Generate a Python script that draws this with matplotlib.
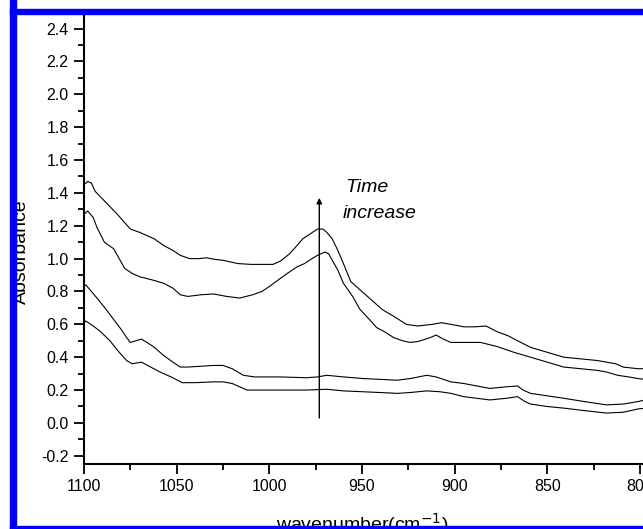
import matplotlib
matplotlib.use("Agg")
import matplotlib.pyplot as plt
from matplotlib.patches import Rectangle
from matplotlib.ticker import MultipleLocator

plt.rcParams["font.family"] = ["Liberation Sans", "DejaVu Sans"]

# spectra, lowest (earliest) to highest (latest)
wn_1 = [1100, 1099, 1095, 1091, 1086, 1081, 1077, 1074, 1069, 1064, 1059, 1053, 1047, 1040,
        1030, 1025, 1020, 1012, 1000, 990, 980, 969, 960, 950, 940, 931, 924, 915, 908, 902,
        895, 888, 881, 872, 866, 862, 859, 850, 841, 830, 818, 809, 801, 797]
abs_1 = [0.61, 0.62, 0.59, 0.555, 0.50, 0.43, 0.38, 0.36, 0.37, 0.34, 0.31, 0.28, 0.245, 0.245,
         0.25, 0.25, 0.24, 0.20, 0.20, 0.20, 0.20, 0.205, 0.195, 0.19, 0.185, 0.18, 0.185, 0.195, 0.19, 0.18,
         0.16, 0.15, 0.14, 0.15, 0.16, 0.13, 0.115, 0.10, 0.09, 0.075, 0.06, 0.065, 0.085, 0.09]

wn_2 = [1100, 1099, 1096, 1093, 1088, 1084, 1080, 1077, 1075, 1072, 1069, 1066, 1062, 1057,
        1052, 1048, 1044, 1037, 1030, 1025, 1020, 1014, 1008, 994, 980, 974, 969, 960, 949,
        940, 931, 924, 915, 910, 902, 895, 888, 881, 872, 866, 863, 859, 850, 841, 830, 818,
        809, 801, 797]
abs_2 = [0.83, 0.84, 0.80, 0.76, 0.69, 0.63, 0.57, 0.52, 0.49, 0.50, 0.51, 0.49, 0.46, 0.41,
         0.37, 0.34, 0.34, 0.345, 0.35, 0.35, 0.33, 0.29, 0.28, 0.28, 0.275, 0.28, 0.29, 0.28, 0.27,
         0.265, 0.26, 0.27, 0.29, 0.28, 0.25, 0.24, 0.225, 0.21, 0.22, 0.225, 0.20, 0.18, 0.165, 0.15, 0.13, 0.11,
         0.115, 0.13, 0.14]

wn_3 = [1100, 1098, 1095, 1093, 1089, 1084, 1081, 1078, 1074, 1070, 1063, 1057, 1052, 1048,
        1044, 1037, 1030, 1023, 1016, 1009, 1004, 1000, 994, 989, 985, 981, 977, 974, 970, 968,
        966, 963, 960, 955, 951, 946, 942, 937, 933, 928, 924, 920, 917, 913, 910, 906, 902,
        895, 886, 877, 868, 859, 850, 841, 832, 823, 818, 812, 806, 801, 797]
abs_3 = [1.27, 1.29, 1.25, 1.19, 1.10, 1.06, 1.00, 0.94, 0.91, 0.89, 0.87, 0.85, 0.82, 0.78,
         0.77, 0.78, 0.785, 0.77, 0.76, 0.78, 0.80, 0.83, 0.88, 0.92, 0.95, 0.97, 1.00, 1.02, 1.04, 1.03,
         0.99, 0.93, 0.85, 0.77, 0.69, 0.63, 0.58, 0.55, 0.52, 0.50, 0.49, 0.495, 0.505, 0.52, 0.535, 0.51, 0.49,
         0.49, 0.49, 0.465, 0.43, 0.40, 0.37, 0.34, 0.33, 0.32, 0.31, 0.29, 0.28, 0.27, 0.265]

wn_4 = [1100, 1098, 1096, 1094, 1088, 1082, 1075, 1070, 1066, 1062, 1057, 1052, 1048, 1043,
        1038, 1034, 1029, 1025, 1017, 1010, 1004, 998, 994, 989, 985, 982, 978, 974, 971, 969,
        966, 963, 960, 956, 951, 947, 943, 939, 933, 926, 920, 912, 907, 902, 895, 889, 883,
        877, 871, 866, 859, 850, 841, 832, 823, 818, 813, 809, 801, 797]
abs_4 = [1.45, 1.47, 1.46, 1.41, 1.34, 1.27, 1.18, 1.16, 1.14, 1.12, 1.08, 1.05, 1.02, 1.00,
         1.00, 1.005, 0.995, 0.99, 0.97, 0.965, 0.965, 0.965, 0.985, 1.03, 1.08, 1.12, 1.15, 1.18, 1.18, 1.16,
         1.12, 1.05, 0.97, 0.86, 0.81, 0.77, 0.73, 0.69, 0.65, 0.60, 0.59, 0.60, 0.61, 0.60, 0.585, 0.585, 0.59,
         0.555, 0.53, 0.50, 0.46, 0.43, 0.40, 0.39, 0.38, 0.37, 0.36, 0.34, 0.33, 0.33]

arrow_wn = 973
arrow_from, arrow_to = 0.03, 1.37

fig = plt.figure(figsize=(6.43, 5.29), dpi=100)
W, H = 643, 529
# axes box in pixels, right edge runs just past the image edge (cropped original)
ax = fig.add_axes([84 / W, (H - 464) / H, (648 - 84) / W, (464 - 12.2) / H])

for wn, a in [(wn_1, abs_1), (wn_2, abs_2), (wn_3, abs_3), (wn_4, abs_4)]:
    ax.plot(wn, a, color="black", lw=0.8)

ax.annotate("", xy=(arrow_wn, arrow_to), xytext=(arrow_wn, arrow_from),
            arrowprops=dict(arrowstyle="-|>", color="black", lw=1.0,
                            mutation_scale=8, shrinkA=0, shrinkB=0))
ax.text(959, 1.406, "Time", style="italic", fontsize=14, va="baseline", ha="left")
ax.text(960.2, 1.248, "increase", style="italic", fontsize=14, va="baseline", ha="left")

ax.set_xlim(1100, 795.6)
ax.set_ylim(-0.25, 2.5)
ax.xaxis.set_major_locator(MultipleLocator(50))
ax.xaxis.set_minor_locator(MultipleLocator(25))
ax.yaxis.set_minor_locator(MultipleLocator(0.1))
ax.set_yticks([-0.2, 0.0, 0.2, 0.4, 0.6, 0.8, 1.0, 1.2, 1.4, 1.6, 1.8, 2.0, 2.2, 2.4])
ax.set_yticklabels([f"{v:.1f}" for v in ax.get_yticks()])
ax.tick_params(which="major", direction="out", length=7, width=1.3, labelsize=11.5, pad=4)
ax.tick_params(which="minor", direction="out", length=4, width=1.3)
for s in ax.spines.values():
    s.set_linewidth(1.5)

fig.text(21.5 / W, (H - 252) / H, "Absorbance", rotation=90, fontsize=14,
         ha="center", va="center")
fig.text(362 / W, (H - 531) / H, "wavenumber(cm$^{-1}$)", fontsize=14,
         ha="center", va="baseline")

# blue frame of the cropped figure
blue = "#0000ff"
fig.patches.extend([
    Rectangle((10 / W, 0), 6 / W, 1, transform=fig.transFigure, color=blue, zorder=10),
    Rectangle((10 / W, (H - 14) / H), 1, 5 / H, transform=fig.transFigure, color=blue, zorder=10),
    Rectangle((10 / W, 0), 1, 3.5 / H, transform=fig.transFigure, color=blue, zorder=10),
])

fig.savefig("out.png", dpi=100)
